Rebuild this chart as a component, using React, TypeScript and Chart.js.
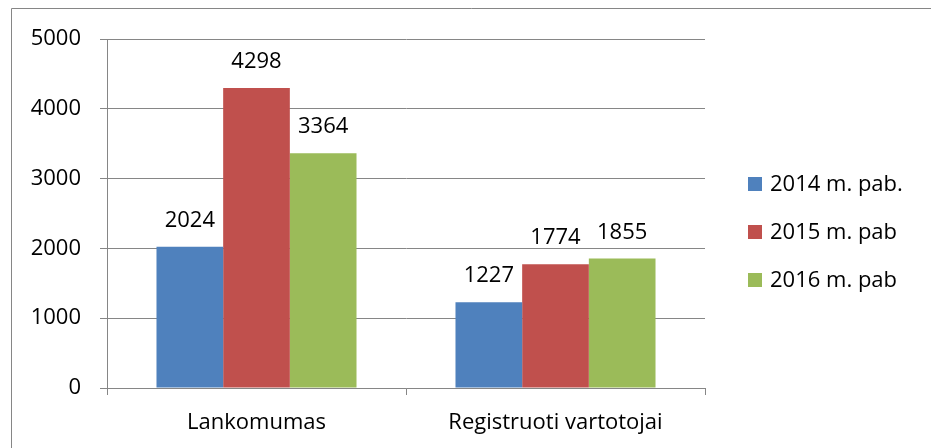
import React, { useEffect, useRef } from "react";
import { Chart, registerables } from "chart.js";

Chart.register(...registerables);

const categories = ["Lankomumas", "Registruoti vartotojai"];
const seriesNames = ["2014 m. pab.", "2015 m. pab", "2016 m. pab"];
const values2014 = [2024, 1227];
const values2015 = [4298, 1774];
const values2016 = [3364, 1855];
const seriesColors = ["#4F81BD", "#C0504D", "#9BBB59"];
const yMin = 0;
const yMax = 5000;
const yStep = 1000;

const FONT = "'Open Sans', sans-serif";
const FONT_SIZE = 22;
const GRID = "#868686";

const overlayPlugin = {
  id: "overlay",
  afterDatasetsDraw(chart: any) {
    const ctx = chart.ctx;
    ctx.save();
    // data labels
    ctx.font = `${FONT_SIZE}px ${FONT}`;
    ctx.fillStyle = "#000";
    ctx.textAlign = "center";
    ctx.textBaseline = "alphabetic";
    chart.data.datasets.forEach((ds: any, i: number) => {
      const meta = chart.getDatasetMeta(i);
      meta.data.forEach((bar: any, j: number) => {
        ctx.fillText(String(ds.data[j]), bar.x, bar.y - 20);
      });
    });
    // legend
    ctx.textAlign = "left";
    ctx.textBaseline = "middle";
    chart.data.datasets.forEach((ds: any, i: number) => {
      const cy = 184 + i * 48;
      ctx.fillStyle = ds.backgroundColor;
      ctx.fillRect(748, cy - 7, 14, 14);
      ctx.fillStyle = "#000";
      ctx.fillText(ds.label, 770, cy + 1);
    });
    // outer border
    ctx.strokeStyle = GRID;
    ctx.lineWidth = 1;
    ctx.beginPath();
    ctx.moveTo(11.5, chart.height + 2);
    ctx.lineTo(11.5, 8.5);
    ctx.lineTo(chart.width + 2, 8.5);
    ctx.stroke();
    ctx.restore();
  },
};

export default function App() {
  const ref = useRef<HTMLCanvasElement>(null);
  useEffect(() => {
    if (!ref.current) return;
    const chart = new Chart(ref.current, {
      type: "bar",
      data: {
        labels: categories,
        datasets: [values2014, values2015, values2016].map((d, i) => ({
          label: seriesNames[i],
          data: d,
          backgroundColor: seriesColors[i],
          borderWidth: 0,
          categoryPercentage: 0.669,
          barPercentage: 1,
        })),
      },
      options: {
        responsive: false,
        maintainAspectRatio: false,
        animation: false,
        layout: { padding: { left: 0, right: 226, top: 39, bottom: 0 } },
        plugins: {
          legend: { display: false },
          tooltip: { enabled: false },
          title: { display: false },
        },
        scales: {
          x: {
            afterFit: (s: any) => {
              s.height = 60;
            },
            grid: {
              offset: true,
              drawOnChartArea: false,
              drawTicks: true,
              tickLength: 7,
              color: GRID,
            },
            border: { display: true, color: GRID },
            ticks: {
              color: "#000",
              font: { family: FONT, size: FONT_SIZE },
              padding: 15,
              maxRotation: 0,
            },
          },
          y: {
            min: yMin,
            max: yMax,
            afterFit: (s: any) => {
              s.width = 107;
            },
            grid: { color: GRID, tickLength: 7, drawTicks: true },
            border: { display: true, color: GRID },
            ticks: {
              stepSize: yStep,
              color: "#000",
              font: { family: FONT, size: FONT_SIZE },
              padding: 19,
              callback: (v: any) => String(v),
            },
          },
        },
      },
      plugins: [overlayPlugin],
    });
    return () => chart.destroy();
  }, []);
  return (
    <div style={{ position: "absolute", left: 0, top: 0, width: 931, height: 448, background: "#fff" }}>
      <canvas ref={ref} width={931} height={448} style={{ width: 931, height: 448, display: "block" }} />
    </div>
  );
}
